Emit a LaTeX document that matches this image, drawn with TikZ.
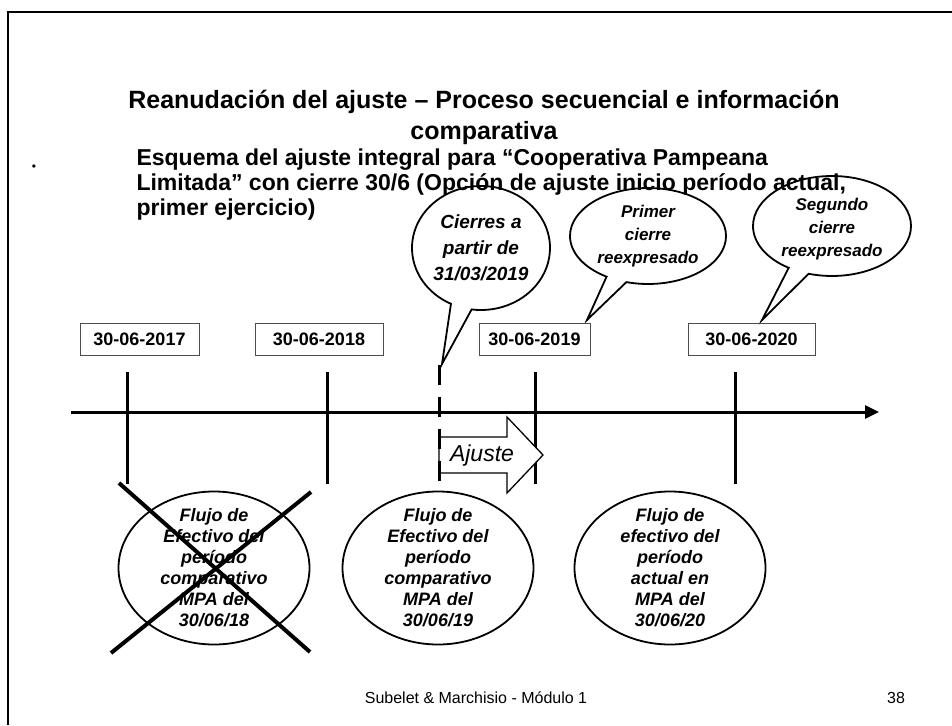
\documentclass[tikz,border=0pt]{standalone}
\usepackage{fontspec}
\setmainfont{Liberation Sans}
\usetikzlibrary{shapes.geometric,shapes.callouts,arrows.meta}
\begin{document}
\begin{tikzpicture}[x=1pt,y=-1pt,
  frameline/.style={line width=2.7pt},
  datebox/.style={draw=black!70, line width=1pt, minimum height=32pt, inner sep=0pt,
    font=\fontsize{18}{20}\selectfont\bfseries},
  balloon/.style={ellipse callout, draw, fill=white, line width=1.8pt, inner sep=0pt, callout pointer arc=18},
  balloontext/.style={align=center, font=\fontsize{19}{26}\selectfont\bfseries\itshape},
  smallballoontext/.style={align=center, font=\fontsize{17}{23}\selectfont\bfseries\itshape},
  flow/.style={ellipse, draw, line width=1.8pt, inner sep=0pt, minimum width=191pt, minimum height=153pt},
  flowtext/.style={align=center, font=\fontsize{18}{21}\selectfont\bfseries\itshape},
  tick/.style={line width=3pt},
  ajustearrow/.style={draw, line width=1.3pt, fill=white}
]
\useasboundingbox (0,0) rectangle (952,725);
% frame
\draw[frameline] (8,725) -- (8,12) -- (952,12);

% title
\node[align=center, font=\fontsize{25}{31}\selectfont\bfseries] (title) at (484,117)
  {Reanudación del ajuste – Proceso secuencial e información\\comparativa};

% balloons (drawn before the bullet text)
\node[balloon, minimum width=138pt, minimum height=124pt, callout absolute pointer={(442,364)}] (b1) at (481,248) {};
\node[balloontext] (t1) at (b1.center) {Cierres a\\partir de\\31/03/2019};
\node[balloon, minimum width=156pt, minimum height=96pt, callout absolute pointer={(587,320)}, callout pointer arc=16] (b2) at (648,236) {};
\node[smallballoontext] (t2) at (b2.center) {Primer\\cierre\\reexpresado};
\node[balloon, minimum width=158pt, minimum height=100pt, callout absolute pointer={(762,320)}, callout pointer arc=16] (b3) at (832,226) {};
\node[smallballoontext] (t3) at ([yshift=-3pt]b3.center) {Segundo\\cierre\\reexpresado};

% bullet
\node[font=\fontsize{12}{12}\selectfont] (dot) at (34,168) {•};
\node[anchor=west, align=left, font=\fontsize{23}{25}\selectfont\bfseries] (bullet) at (133,185)
  {Esquema del ajuste integral para “Cooperativa Pampeana\\
   Limitada” con cierre 30/6 (Opción de ajuste inicio período actual,\\
   primer ejercicio)};

% date boxes
\node[datebox, minimum width=119pt] (d17) at (139.5,339) {30-06-2017};
\node[datebox, minimum width=128pt] (d18) at (319,339) {30-06-2018};
\node[datebox, minimum width=111pt] (d19) at (534.5,339) {30-06-2019};
\node[datebox, minimum width=127pt] (d20) at (751.5,339) {30-06-2020};

% axis
\coordinate (axs) at (71,412);
\coordinate (axe) at (879,412);
\draw[line width=3pt, -{Triangle[length=14pt,width=13pt]}] (axs) -- (axe);

% ticks
\draw[tick] (127,372) -- (127,484);
\draw[tick] (327,372) -- (327,484);
\draw[tick] (535,372) -- (535,484);
\draw[tick] (735,372) -- (735,484);

% Ajuste block arrow
\draw[ajustearrow] (439,437) -- (507,437) -- (507,417) -- (543,455) -- (507,493) -- (507,473) -- (439,473) -- cycle;
\node[font=\fontsize{23}{26}\selectfont\itshape] (aj) at (482,456) {Ajuste};
\draw[line width=3pt, dash pattern=on 20pt off 12pt] (439,365) -- (439,483);

% flow circles
\node[flow] (c1) at (214,568) {};
\node[flowtext] at (c1.center) {Flujo de\\Efectivo del\\período\\comparativo\\MPA del\\30/06/18};
\node[flow] (c2) at (438,568) {};
\node[flowtext] at (c2.center) {Flujo de\\Efectivo del\\período\\comparativo\\MPA del\\30/06/19};
\node[flow] (c3) at (670,568) {};
\node[flowtext] at (c3.center) {Flujo de\\efectivo del\\período\\actual en\\MPA del\\30/06/20};

% cross
\draw[line width=4pt] (119,483) -- (310,652);
\draw[line width=4pt] (311,492) -- (111,653);

% footer
\node[font=\fontsize{16}{18}\selectfont] (foot) at (476,698) {Subelet \& Marchisio - Módulo 1};
\node[font=\fontsize{16}{18}\selectfont] (page) at (896,698) {38};
\end{tikzpicture}
\end{document}
